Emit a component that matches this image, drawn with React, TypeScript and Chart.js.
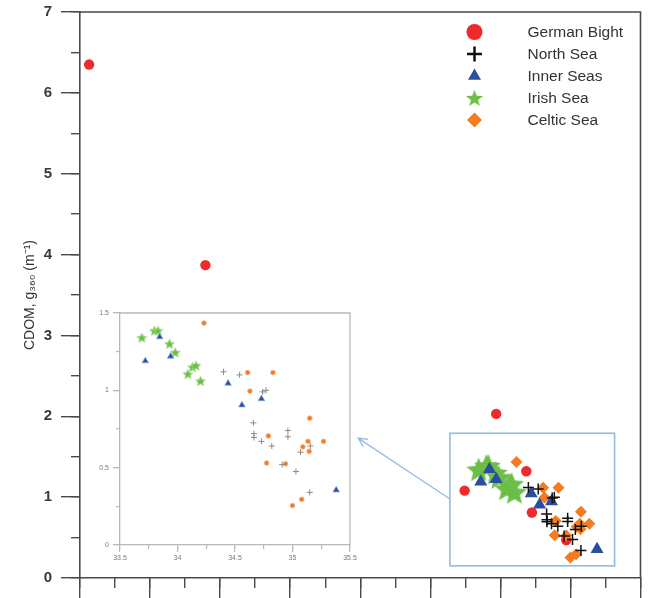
import React, { useEffect, useRef } from 'react';
import { Chart, registerables } from 'chart.js';

Chart.register(...registerables);

// ---------- data ----------
const seriesNames = ['German Bight', 'North Sea', 'Inner Seas', 'Irish Sea', 'Celtic Sea'];

const germanSal = [28.13, 29.79, 33.94, 33.49, 34.37, 34.45, 34.94];
const germanCdom = [6.35, 3.87, 2.03, 1.08, 1.32, 0.81, 0.47];

const northSal = [34.4, 34.54, 34.74, 34.77, 34.66, 34.665, 34.665, 34.73, 34.82, 34.96, 34.96, 34.91, 35.03, 35.07, 35.155, 35.15];
const northCdom = [1.12, 1.1, 0.99, 1.0, 0.79, 0.72, 0.695, 0.67, 0.64, 0.74, 0.7, 0.52, 0.475, 0.6, 0.64, 0.34];

const innerSal = [33.72, 33.845, 33.94, 34.44, 34.56, 34.73, 35.38];
const innerCdom = [1.19, 1.345, 1.22, 1.045, 0.905, 0.945, 0.355];

const irishSal = [33.69, 33.8, 33.83, 33.93, 33.98, 34.09, 34.13, 34.16, 34.2];
const irishCdom = [1.34, 1.385, 1.385, 1.3, 1.245, 1.105, 1.15, 1.16, 1.06];

const celticSal = [34.23, 34.61, 34.63, 34.83, 34.79, 34.775, 34.94, 35.15, 35.09, 35.135, 35.145, 35.27, 35.0, 35.08];
const celticCdom = [1.435, 1.115, 0.995, 1.115, 0.705, 0.53, 0.525, 0.82, 0.635, 0.67, 0.605, 0.67, 0.255, 0.295];

const yAxisTitle = 'CDOM, g₃₆₀ (m⁻¹)';

// ---------- styling ----------
const FONT = "'Liberation Sans', Arial, Helvetica, sans-serif";
const RED = '#ee2a2a';
const BLACK = '#111111';
const BLUE = '#2b4f9f';
const GREEN = '#6cbf46';
const ORANGE = '#f47b20';
const BOXBLUE = '#92bbe4';
const AXIS = '#4a4a4a';
const INSET_AXIS = '#b8b8b8';

const pts = (xs: number[], ys: number[]) => xs.map((x, i) => ({ x, y: ys[i] }));

function makeStar(outer: number, inner: number, fill: string, stroke?: string) {
  const size = Math.ceil(outer * 2 + 4);
  const c = document.createElement('canvas');
  c.width = size;
  c.height = size;
  const ctx = c.getContext('2d')!;
  ctx.translate(size / 2, size / 2 + outer * 0.08);
  ctx.beginPath();
  for (let i = 0; i < 10; i++) {
    const r = i % 2 === 0 ? outer : inner;
    const a = -Math.PI / 2 + (i * Math.PI) / 5;
    const px = Math.cos(a) * r;
    const py = Math.sin(a) * r;
    if (i === 0) ctx.moveTo(px, py);
    else ctx.lineTo(px, py);
  }
  ctx.closePath();
  ctx.fillStyle = fill;
  ctx.fill();
  if (stroke) {
    ctx.strokeStyle = stroke;
    ctx.lineWidth = 1;
    ctx.stroke();
  }
  return c;
}

function drawLegendMarker(ctx: CanvasRenderingContext2D, idx: number, x: number, y: number, star: HTMLCanvasElement) {
  ctx.save();
  switch (idx) {
    case 0:
      ctx.fillStyle = RED;
      ctx.beginPath();
      ctx.arc(x, y, 8, 0, Math.PI * 2);
      ctx.fill();
      break;
    case 1:
      ctx.strokeStyle = BLACK;
      ctx.lineWidth = 2.5;
      ctx.beginPath();
      ctx.moveTo(x - 7.5, y);
      ctx.lineTo(x + 7.5, y);
      ctx.moveTo(x, y - 7.5);
      ctx.lineTo(x, y + 7.5);
      ctx.stroke();
      break;
    case 2: {
      ctx.fillStyle = BLUE;
      const r = 7.5;
      ctx.beginPath();
      ctx.moveTo(x, y - r);
      ctx.lineTo(x + r * Math.sin((2 * Math.PI) / 3), y - r * Math.cos((2 * Math.PI) / 3));
      ctx.lineTo(x + r * Math.sin((4 * Math.PI) / 3), y - r * Math.cos((4 * Math.PI) / 3));
      ctx.closePath();
      ctx.fill();
      break;
    }
    case 3:
      ctx.drawImage(star, x - star.width / 2, y - star.height / 2);
      break;
    case 4:
      ctx.fillStyle = ORANGE;
      ctx.beginPath();
      ctx.moveTo(x, y - 7.5);
      ctx.lineTo(x + 7.5, y);
      ctx.lineTo(x, y + 7.5);
      ctx.lineTo(x - 7.5, y);
      ctx.closePath();
      ctx.fill();
      break;
  }
  ctx.restore();
}

// zoom box (in data units of the main chart) and arrow
const zoomBox = { x0: 33.28, x1: 35.63, y0: 0.15, y1: 1.79 };
const arrowFrom = { x: 33.28, y: 0.976 };
const arrowTo = { x: 31.97, y: 1.73 };

const noPadY = (w: number) => (s: any) => {
  s.width = w;
  s.paddingTop = 0;
  s.paddingBottom = 0;
};
const noPadX = (h: number) => (s: any) => {
  s.height = h;
  s.paddingLeft = 0;
  s.paddingRight = 0;
};

export default function App() {
  const mainRef = useRef<HTMLCanvasElement | null>(null);
  const insetRef = useRef<HTMLCanvasElement | null>(null);

  useEffect(() => {
    document.body.style.margin = '0';
    Chart.defaults.font.family = FONT;

    const bigStar = makeStar(13, 5.8, GREEN);
    const legendStar = makeStar(9, 3.8, GREEN);
    const smallStar = makeStar(5.2, 2.4, GREEN, 'rgba(170,220,150,0.8)');

    const framePlugin = (color: string, width: number) => ({
      id: 'frame',
      afterDraw(chart: any) {
        const { left, right, top, bottom } = chart.chartArea;
        const ctx = chart.ctx;
        ctx.save();
        ctx.strokeStyle = color;
        ctx.lineWidth = width;
        ctx.beginPath();
        ctx.moveTo(left, top);
        ctx.lineTo(right, top);
        ctx.lineTo(right, bottom);
        ctx.stroke();
        ctx.restore();
      },
    });

    const zoomPlugin = {
      id: 'zoomBox',
      beforeDatasetsDraw(chart: any) {
        const xs = chart.scales.x;
        const ys = chart.scales.y;
        const ctx = chart.ctx;
        const bx0 = xs.getPixelForValue(zoomBox.x0);
        const bx1 = xs.getPixelForValue(zoomBox.x1);
        const by0 = ys.getPixelForValue(zoomBox.y1);
        const by1 = ys.getPixelForValue(zoomBox.y0);
        ctx.save();
        ctx.strokeStyle = BOXBLUE;
        ctx.lineWidth = 1.6;
        ctx.strokeRect(bx0, by0, bx1 - bx0, by1 - by0);
        const ax0 = xs.getPixelForValue(arrowFrom.x);
        const ay0 = ys.getPixelForValue(arrowFrom.y);
        const ax1 = xs.getPixelForValue(arrowTo.x);
        const ay1 = ys.getPixelForValue(arrowTo.y);
        ctx.lineWidth = 1.3;
        ctx.beginPath();
        ctx.moveTo(ax0, ay0);
        ctx.lineTo(ax1, ay1);
        const ang = Math.atan2(ay0 - ay1, ax0 - ax1);
        const hl = 10;
        ctx.moveTo(ax1 + Math.cos(ang - 0.45) * hl, ay1 + Math.sin(ang - 0.45) * hl);
        ctx.lineTo(ax1, ay1);
        ctx.lineTo(ax1 + Math.cos(ang + 0.45) * hl, ay1 + Math.sin(ang + 0.45) * hl);
        ctx.stroke();
        ctx.restore();
      },
    };

    const legendPlugin = {
      id: 'customLegend',
      afterDraw(chart: any) {
        const { right, top } = chart.chartArea;
        const ctx = chart.ctx;
        const markerX = right - 166;
        const textX = right - 113;
        ctx.save();
        ctx.font = `15.5px ${FONT}`;
        ctx.fillStyle = '#333';
        ctx.textBaseline = 'middle';
        ctx.textAlign = 'left';
        seriesNames.forEach((name, i) => {
          const y = top + 20 + i * 22;
          drawLegendMarker(ctx, i, markerX, y, legendStar);
          ctx.fillText(name, textX, y + 1);
        });
        ctx.restore();
      },
    };

    const gridMajor = (len: number, color: string, w: number) => ({
      drawOnChartArea: false,
      drawTicks: true,
      tickLength: len,
      color,
      lineWidth: w,
    });

    const main = new Chart(mainRef.current!, {
      type: 'scatter',
      data: {
        datasets: [
          { label: seriesNames[1], data: pts(northSal, northCdom), pointStyle: 'cross', pointRadius: 5.5, borderColor: BLACK, borderWidth: 1.5, order: 1 },
          { label: seriesNames[2], data: pts(innerSal, innerCdom), pointStyle: 'triangle', pointRadius: 7.5, backgroundColor: BLUE, borderColor: BLUE, borderWidth: 0, order: 2 },
          { label: seriesNames[4], data: pts(celticSal, celticCdom), pointStyle: 'rectRot', pointRadius: 6, backgroundColor: ORANGE, borderColor: ORANGE, borderWidth: 0, order: 3 },
          { label: seriesNames[3], data: pts(irishSal, irishCdom), pointStyle: bigStar as any, order: 4 },
          { label: seriesNames[0], data: pts(germanSal, germanCdom), pointStyle: 'circle', pointRadius: 5.2, backgroundColor: RED, borderColor: RED, borderWidth: 0, order: 5 },
        ],
      },
      options: {
        animation: false,
        responsive: true,
        maintainAspectRatio: false,
        layout: { padding: { top: 12, right: 5, left: 0, bottom: 0 } },
        plugins: { legend: { display: false }, tooltip: { enabled: false } },
        scales: {
          x: {
            type: 'linear',
            position: 'bottom',
            min: 28,
            max: 36,
            ticks: { stepSize: 1, display: false },
            grid: gridMajor(20, AXIS, 1.4),
            border: { display: true, color: AXIS, width: 1.6 },
            afterFit: noPadX(20),
          },
          xMinor: {
            type: 'linear',
            axis: 'x',
            position: { y: 0 },
            min: 28,
            max: 36,
            ticks: { stepSize: 0.5, display: false },
            grid: gridMajor(10, AXIS, 1.4),
            border: { display: false },
          },
          y: {
            type: 'linear',
            position: 'left',
            min: 0,
            max: 7,
            ticks: { stepSize: 1, padding: 9, color: '#3a3a3a', font: { size: 15, weight: 'bold' } },
            grid: gridMajor(19, AXIS, 1.4),
            border: { display: true, color: AXIS, width: 1.6 },
            title: { display: true, text: yAxisTitle, color: '#333', font: { size: 14 }, padding: { top: 22, bottom: 0 } },
            afterFit: noPadY(80),
          },
          yMinor: {
            type: 'linear',
            axis: 'y',
            position: { x: 28 },
            min: 0,
            max: 7,
            ticks: { stepSize: 0.5, display: false },
            grid: gridMajor(9, AXIS, 1.4),
            border: { display: false },
          },
        } as any,
      },
      plugins: [framePlugin(AXIS, 1.6), zoomPlugin, legendPlugin],
    });

    const insetTick = { size: 7 };
    const plainNum = (v: any) => String(Number(v));
    const inset = new Chart(insetRef.current!, {
      type: 'scatter',
      data: {
        datasets: [
          { label: seriesNames[2], data: pts(innerSal, innerCdom), pointStyle: 'triangle', pointRadius: 3.8, backgroundColor: BLUE, borderColor: 'rgba(140,165,225,0.7)', borderWidth: 1, order: 1 },
          { label: seriesNames[1], data: pts(northSal, northCdom), pointStyle: 'cross', pointRadius: 3, borderColor: '#8a8a8a', borderWidth: 1, order: 2 },
          { label: seriesNames[4], data: pts(celticSal, celticCdom), pointStyle: 'circle', pointRadius: 2.4, backgroundColor: ORANGE, borderColor: 'rgba(250,180,130,0.8)', borderWidth: 1, order: 3 },
          { label: seriesNames[3], data: pts(irishSal, irishCdom), pointStyle: smallStar as any, order: 4 },
        ],
      },
      options: {
        animation: false,
        responsive: true,
        maintainAspectRatio: false,
        layout: { padding: { top: 10, right: 10, left: 0, bottom: 0 } },
        plugins: { legend: { display: false }, tooltip: { enabled: false } },
        scales: {
          x: {
            type: 'linear',
            position: 'bottom',
            min: 33.5,
            max: 35.5,
            ticks: { stepSize: 0.5, padding: 2, color: '#777', font: insetTick, maxRotation: 0, callback: plainNum },
            grid: gridMajor(7, INSET_AXIS, 1.2),
            border: { display: true, color: INSET_AXIS, width: 1.3 },
            afterFit: noPadX(20),
          },
          xMinor: {
            type: 'linear',
            axis: 'x',
            position: { y: 0 },
            min: 33.5,
            max: 35.5,
            ticks: { stepSize: 0.25, display: false },
            grid: gridMajor(4, INSET_AXIS, 1.2),
            border: { display: false },
          },
          y: {
            type: 'linear',
            position: 'left',
            min: 0,
            max: 1.5,
            ticks: { stepSize: 0.5, padding: 4, color: '#777', font: insetTick, callback: plainNum },
            grid: gridMajor(7, INSET_AXIS, 1.2),
            border: { display: true, color: INSET_AXIS, width: 1.3 },
            afterFit: noPadY(32),
          },
          yMinor: {
            type: 'linear',
            axis: 'y',
            position: { x: 33.5 },
            min: 0,
            max: 1.5,
            ticks: { stepSize: 0.25, display: false },
            grid: gridMajor(4, INSET_AXIS, 1.2),
            border: { display: false },
          },
        } as any,
      },
      plugins: [framePlugin(INSET_AXIS, 1.3)],
    });

    return () => {
      main.destroy();
      inset.destroy();
    };
  }, []);

  return (
    <div style={{ position: 'relative', width: 648, height: 598, background: '#fff' }}>
      <div style={{ position: 'absolute', left: 0, top: 0, width: 648, height: 598 }}>
        <canvas ref={mainRef} />
      </div>
      <div style={{ position: 'absolute', left: 88, top: 303, width: 272, height: 262 }}>
        <canvas ref={insetRef} />
      </div>
    </div>
  );
}
